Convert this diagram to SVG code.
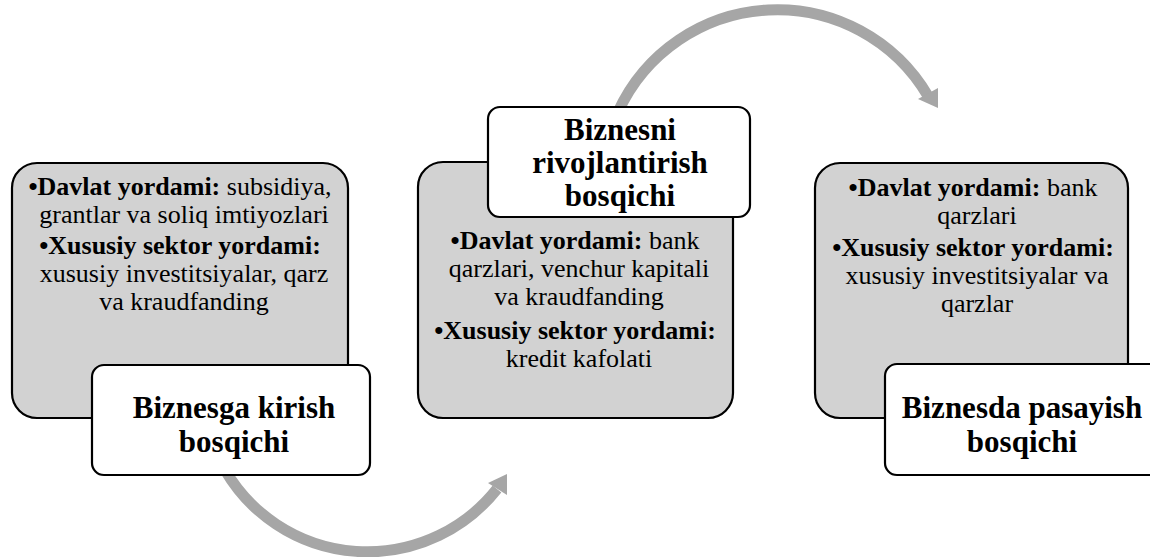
<svg xmlns="http://www.w3.org/2000/svg" width="1150" height="557" viewBox="0 0 1150 557">
<style>
.bg{fill:#d2d2d2;stroke:#000;stroke-width:2.2}
.wb{fill:#fff;stroke:#000;stroke-width:2.2}
.body{font-family:"Liberation Serif","Times New Roman",serif;font-size:26px;fill:#000;text-anchor:middle}
.title{font-family:"Liberation Serif","Times New Roman",serif;font-size:31px;font-weight:bold;fill:#000;text-anchor:middle}
.b{font-weight:bold}
.arc{fill:none;stroke:#a6a6a6;stroke-width:11}
.head{fill:#a6a6a6}
</style>
<rect width="1150" height="557" fill="#fff"/>
<g id="connectors">
  <path class="arc" d="M225,470 A165,165 0 0 0 497,489"/>
  <polygon class="head" points="507,474 507,495 488,483"/>
  <path class="arc" d="M618,112 A175,175 0 0 1 928,96"/>
  <polygon class="head" points="938,88 938,108 918,99"/>
</g>
<g id="node-left">
  <rect class="bg" x="12" y="163" width="336" height="255" rx="25"/>
  <text class="body" x="180" y="195"><tspan class="b">•Davlat yordami:</tspan> subsidiya,</text>
  <text class="body" x="184" y="223">grantlar va soliq imtiyozlari</text>
  <text class="body b" x="180" y="254">•Xususiy sektor yordami:</text>
  <text class="body" x="184" y="282">xususiy investitsiyalar, qarz</text>
  <text class="body" x="184" y="310">va kraudfanding</text>
</g>
<g id="title-left">
  <rect class="wb" x="92" y="365" width="278" height="110" rx="12"/>
  <text class="title" x="234" y="418">Biznesga kirish</text>
  <text class="title" x="234" y="452">bosqichi</text>
</g>
<g id="node-middle">
  <rect class="bg" x="418" y="162" width="315" height="256" rx="25"/>
  <text class="body" x="575" y="249"><tspan class="b">•Davlat yordami:</tspan> bank</text>
  <text class="body" x="579" y="277">qarzlari, venchur kapitali</text>
  <text class="body" x="579" y="305">va kraudfanding</text>
  <text class="body b" x="575" y="339">•Xususiy sektor yordami:</text>
  <text class="body" x="579" y="367">kredit kafolati</text>
</g>
<g id="title-middle">
  <rect class="wb" x="488" y="107" width="262" height="110" rx="12"/>
  <text class="title" x="620" y="140">Biznesni</text>
  <text class="title" x="620" y="173">rivojlantirish</text>
  <text class="title" x="620" y="206">bosqichi</text>
</g>
<g id="node-right">
  <rect class="bg" x="815" y="163" width="313" height="255" rx="25"/>
  <text class="body" x="973" y="196"><tspan class="b">•Davlat yordami:</tspan> bank</text>
  <text class="body" x="977" y="224">qarzlari</text>
  <text class="body b" x="973" y="256">•Xususiy sektor yordami:</text>
  <text class="body" x="977" y="284">xususiy investitsiyalar va</text>
  <text class="body" x="977" y="312">qarzlar</text>
</g>
<g id="title-right">
  <rect class="wb" x="885" y="364" width="290" height="111" rx="12"/>
  <text class="title" x="1022" y="418">Biznesda pasayish</text>
  <text class="title" x="1022" y="452">bosqichi</text>
</g>
</svg>
